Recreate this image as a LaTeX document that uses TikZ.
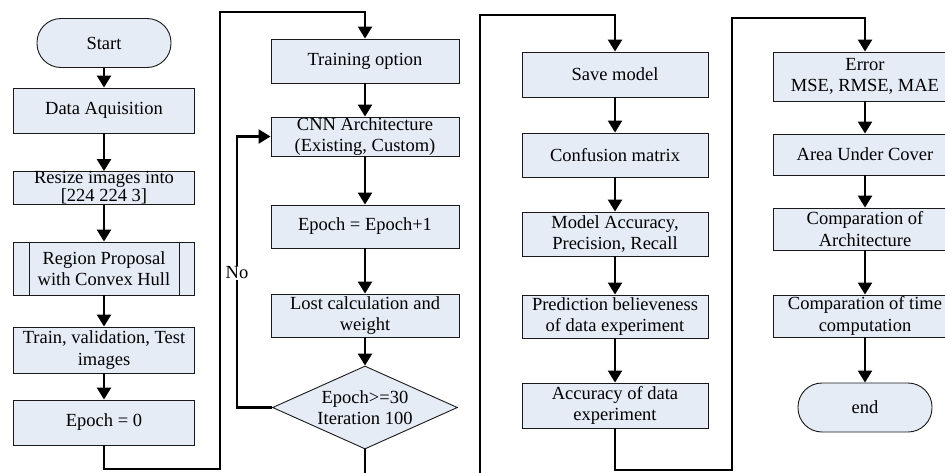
\documentclass[tikz,border=0pt]{standalone}
\usepackage{fontspec}
\setmainfont{Liberation Serif}
\usetikzlibrary{shapes.geometric,arrows.meta}
\definecolor{boxfill}{RGB}{230,236,246}
\begin{document}
\begin{tikzpicture}[x=1pt,y=-1pt,
  every node/.style={font=\fontsize{18.5}{21.5}\selectfont},
  box/.style={draw=black!90, line width=0.9pt, fill=boxfill, inner sep=0pt, align=center},
  colA/.style={box, minimum width=181pt},
  colB/.style={box, minimum width=188pt},
  colC/.style={box, minimum width=186pt},
  colD/.style={box, minimum width=184pt},
  terminal/.style={box, minimum width=134pt, minimum height=49pt, rounded corners=24pt},
  decision/.style={box, diamond, minimum width=185pt, minimum height=83pt},
  flow/.style={line width=2.4pt, -{Triangle[width=14pt,length=12pt]}}
]
\useasboundingbox (0,0) rectangle (945,472);

% first column: preparation of the data
\node[terminal] (start) at (104,43) {Start};
\node[colA, minimum height=45pt] (acq) at (104,110.5) {Data Aquisition};
\node[colA, minimum height=33pt, font=\fontsize{18.5}{18}\selectfont] (resize) at (104,188) {Resize images into\\{}[224 224 3]};
\node[colA, minimum height=53pt] (reg) at (104,268.5) {Region Proposal\\with Convex Hull};
\draw[black!90, line width=0.9pt] ([xshift=16pt]reg.north west) -- ([xshift=16pt]reg.south west)
      ([xshift=-16pt]reg.north east) -- ([xshift=-16pt]reg.south east);
\node[colA, minimum height=46pt] (split) at (104,350) {Train, validation, Test\\images};
\node[colA, minimum height=45pt] (ep0) at (104,422.5) {Epoch = 0};

% second column: training loop
\node[colB, minimum height=44pt] (opt) at (365,61) {Training option};
\node[colB, minimum height=39pt] (cnn) at (365,136.5) {CNN Architecture\\(Existing, Custom)};
\node[colB, minimum height=43pt] (ep1) at (365,226.5) {Epoch = Epoch+1};
\node[colB, minimum height=43pt] (loss) at (365,315.5) {Lost calculation and\\weight};
\node[decision] (dec) at (365,407.5) {};
\node[align=center] (dect) at (dec.center) {Epoch>=30\\Iteration 100};

% third column: evaluation
\node[colC, minimum height=45pt] (save) at (615,74.5) {Save model};
\node[colC, minimum height=44pt] (conf) at (615,155) {Confusion matrix};
\node[colC, minimum height=44pt] (macc) at (615,234) {Model Accuracy,\\Precision, Recall};
\node[colC, minimum height=43pt] (pred) at (615,316.5) {Prediction believeness\\of data experiment};
\node[colC, minimum height=45pt] (dacc) at (615,405.5) {Accuracy of data\\experiment};

% fourth column: comparison
\node[colD, minimum height=49pt] (err) at (865,76.5) {Error\\MSE, RMSE, MAE};
\node[colD, minimum height=41pt] (auc) at (865,154.5) {Area Under Cover};
\node[colD, minimum height=42pt] (carch) at (865,229) {Comparation of\\Architecture};
\node[colD, minimum height=42pt] (ctime) at (865,316) {Comparation of time\\computation};
\node[terminal] (fin) at (865,407.5) {end};

% straight links inside each column
\draw[flow] (start) -- (acq);
\draw[flow] (acq) -- (resize);
\draw[flow] (resize) -- (reg);
\draw[flow] (reg) -- (split);
\draw[flow] (split) -- (ep0);
\draw[flow] (opt) -- (cnn);
\draw[flow] (cnn) -- (ep1);
\draw[flow] (ep1) -- (loss);
\draw[flow] (loss) -- (dec);
\draw[flow] (save) -- (conf);
\draw[flow] (conf) -- (macc);
\draw[flow] (macc) -- (pred);
\draw[flow] (pred) -- (dacc);
\draw[flow] (err) -- (auc);
\draw[flow] (auc) -- (carch);
\draw[flow] (carch) -- (ctime);
\draw[flow] (ctime) -- (fin);

% links from one column to the next
\coordinate (lowA) at (220,469);
\coordinate (topA) at (220,12);
\draw[flow] (ep0.south) |- (lowA) -- (topA) -| (opt.north);

\coordinate (lowB) at (480,478);
\coordinate (topB) at (480,15);
\draw[flow] (dec.south) |- (lowB) -- (topB) -| (save.north);

\coordinate (lowC) at (732,470);
\coordinate (topC) at (732,18);
\draw[flow] (dacc.south) |- (lowC) -- (topC) -| (err.north);

% loop back while training continues
\coordinate (loopX) at (237,0);
\draw[flow] (dec.west) -- (dec.west -| loopX) |- (cnn.west);
\node[fill=white, inner sep=1pt] (no) at (237,273) {No};
\end{tikzpicture}
\end{document}
